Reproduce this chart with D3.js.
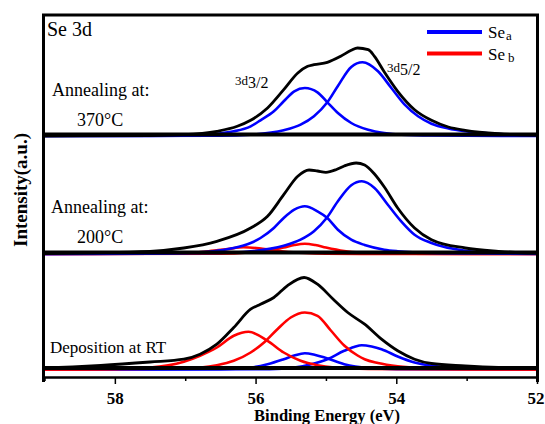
<!DOCTYPE html>
<html>
<head>
<meta charset="utf-8">
<script src="https://cdn.jsdelivr.net/npm/d3@7"></script>
<style>
  body { margin: 0; background: #fff; }
  svg text { font-family: "Liberation Serif", "DejaVu Serif", serif; fill: #000; }
</style>
</head>
<body>
<div id="chart"></div>
<script>
// [binding energy (eV), intensity (a.u.)]

// 370 C annealing
const t370_black = [[59,0],[57.5,0.5],[57.02,1.3],[56.55,4.7],[56.26,9.7],[56.07,15.7],[55.83,28],[55.6,46.3],[55.4,63],[55.26,69.7],[55.17,71.3],[54.98,73.7],[54.79,79.7],[54.64,85.7],[54.55,88],[54.4,86.3],[54.31,79.7],[54.17,64],[53.98,44.7],[53.74,26.3],[53.5,15.7],[53.26,9],[53.02,5.7],[52.55,2.3],[52.07,1],[52,1]];
const t370_sea32 = [[59,0],[57.5,0],[57.02,0.3],[56.55,2.3],[56.31,4.7],[56.07,9.7],[55.93,15.7],[55.74,24.7],[55.6,34.7],[55.45,44.7],[55.3,48],[55.12,43.7],[54.98,33.7],[54.83,23],[54.64,13],[54.4,6.3],[54.17,3],[53.93,1.3],[53.5,0.5],[52,0]];
const t370_sea52 = [[59,0],[56.5,0.3],[56.07,1.3],[55.6,5.7],[55.36,11.3],[55.17,19.7],[54.98,33.7],[54.83,50],[54.64,69],[54.48,73.7],[54.26,64.7],[54.07,48],[53.88,31.3],[53.69,19.7],[53.5,12.3],[53.26,7.5],[53.02,4.7],[52.55,2],[52.07,0.7],[52,0.5]];

// 200 C annealing
const t200_black = [[59,0.5],[57.5,2.7],[57.02,6],[56.55,12.7],[56.07,26],[55.83,37.7],[55.6,59.3],[55.4,77.7],[55.24,84],[55.12,83],[55,81.7],[54.85,84.5],[54.74,88],[54.57,91],[54.45,89],[54.31,80],[54.17,67],[53.98,46],[53.74,26],[53.5,14.3],[53.02,6],[52.55,2.7],[52.07,1],[52,1]];
const t200_sea32 = [[59,0],[57.5,0.3],[57.02,1],[56.55,3.3],[56.31,6],[56.07,11],[55.93,16],[55.74,26],[55.6,36],[55.45,44.3],[55.3,47.7],[55.12,42.7],[54.98,36],[54.83,24.3],[54.64,14.3],[54.45,9],[54.17,4.3],[53.98,2.7],[53.5,1],[52.5,0.3],[52,0]];
const t200_sea52 = [[59,0],[56.55,1],[56.07,2.7],[55.6,8.3],[55.36,14.3],[55.17,22.7],[54.99,36],[54.83,52.7],[54.64,68.7],[54.49,72.7],[54.31,66],[54.12,49.3],[53.93,32.7],[53.74,19.3],[53.5,11],[53.02,3.3],[52.55,1],[52,0.3]];
const t200_seb32 = [[59,0],[57.5,0.2],[57,0.8],[56.7,2.5],[56.4,5],[56.17,6.7],[55.9,5.2],[55.6,2.5],[55.3,1],[55,0.3],[54.5,0],[52,0]];
const t200_seb52 = [[59,0],[56.5,0.3],[56.1,1.5],[55.83,3.5],[55.6,6.5],[55.45,9],[55.3,10.3],[55.15,9],[55,6.5],[54.74,3],[54.5,1.3],[54.2,0.5],[53.8,0.2],[52,0]];

// deposition at RT
const rt_black = [[59,1.5],[58.6,2.5],[58.2,4],[57.5,7.5],[57.02,10.3],[56.79,15.3],[56.55,25.3],[56.31,42],[56.07,60.3],[55.93,65.3],[55.74,72],[55.55,83.7],[55.31,92],[55.12,85.3],[54.9,70.5],[54.69,57],[54.45,45.3],[54.21,30.3],[53.98,18.7],[53.74,10.3],[53.5,6],[53.02,3.7],[52.55,2],[52.07,1],[52,1]];
const rt_sea32 = [[59,0],[56.5,0.3],[56.07,2],[55.83,5.3],[55.6,10.3],[55.45,14],[55.3,16.3],[55.15,14.5],[55.02,12],[54.74,5.3],[54.4,1.5],[54,0.3],[52,0]];
const rt_sea52 = [[59,0],[55.8,0.3],[55.45,2],[55.21,5.3],[54.98,10.3],[54.74,18.7],[54.6,22.5],[54.49,24.3],[54.35,23],[54.21,20.3],[53.98,13],[53.74,7],[53.5,3.7],[53.02,1.3],[52.55,0.3],[52,0]];
const rt_seb32 = [[59,0],[58.2,0.3],[57.5,2],[57.02,7.7],[56.79,13.7],[56.55,22],[56.31,33.7],[56.1,37.7],[55.83,28.7],[55.6,17],[55.36,8.7],[55.12,4.3],[54.88,2],[54.4,0.5],[52,0]];
const rt_seb52 = [[59,0],[57.02,1],[56.55,4.3],[56.31,8.7],[56.07,17],[55.88,27],[55.69,40.3],[55.5,52],[55.3,57],[55.12,53.7],[54.93,39],[54.74,24],[54.55,14],[54.45,10.3],[54.26,6.5],[53.98,3.3],[53.5,1.3],[53,0.5],[52,0]];

const panelLabels = [["Annealing at:", "370\u00b0C"], ["Annealing at:", "200\u00b0C"], ["Deposition at RT"]];
const legendNames = [["Se", "a"], ["Se", "b"]];
const xTicks = [58, 56, 54, 52];
const xMinorTicks = [59, 57, 55, 53];

const colA = "#0000ff", colB = "#ff0000";
const panels = [
  {labels: panelLabels[0], curves: [[t370_sea32, colA], [t370_sea52, colA], [t370_black, "#000"]]},
  {labels: panelLabels[1], curves: [[t200_seb32, colB], [t200_seb52, colB], [t200_sea32, colA], [t200_sea52, colA], [t200_black, "#000"]]},
  {labels: panelLabels[2], curves: [[rt_sea32, colA], [rt_sea52, colA], [rt_seb32, colB], [rt_seb52, colB], [rt_black, "#000"]]}
];

// layout
const width = 545, height = 424;
const frameL = 43.5, frameR = 537.5, frameT = 15, axisY = 377;
const sepY = [134.5, 252.5, 368];
const baseY = [136, 254, 369.5];
const serif = '"Liberation Serif", "DejaVu Serif", serif';

const svg = d3.select("#chart").append("svg")
  .attr("width", width)
  .attr("height", height)
  .attr("font-family", serif);

const x = d3.scaleLinear().domain([59, 52]).range([44.5, 537]);

// curves
panels.forEach((p, i) => {
  const y = d3.scaleLinear().domain([0, 100]).range([baseY[i], baseY[i] - 100]);
  const line = d3.line()
    .x(d => x(d[0]))
    .y(d => y(d[1]))
    .curve(d3.curveMonotoneX);
  const g = svg.append("g");
  g.selectAll("path")
    .data(p.curves)
    .join("path")
    .attr("d", d => line(d[0]))
    .attr("fill", "none")
    .attr("stroke", d => d[1])
    .attr("stroke-width", d => d[1] === "#000" ? 2.8 : 2.6);
});

// frame and separators
svg.append("line").attr("x1", frameL - 1.5).attr("x2", frameR + 1.5).attr("y1", frameT).attr("y2", frameT)
  .attr("stroke", "#000").attr("stroke-width", 3);
svg.append("line").attr("x1", frameL).attr("x2", frameL).attr("y1", frameT).attr("y2", axisY + 5)
  .attr("stroke", "#000").attr("stroke-width", 3);
svg.append("line").attr("x1", frameR).attr("x2", frameR).attr("y1", frameT).attr("y2", axisY + 5)
  .attr("stroke", "#000").attr("stroke-width", 3);
svg.selectAll(".sep")
  .data(sepY)
  .join("line")
  .attr("class", "sep")
  .attr("x1", frameL).attr("x2", frameR)
  .attr("y1", d => d).attr("y2", d => d)
  .attr("stroke", "#000").attr("stroke-width", 3.8);

// x axis
const xAxis = svg.append("g")
  .attr("transform", `translate(0,${axisY})`)
  .call(d3.axisBottom(x).tickValues(xTicks).tickFormat(d3.format("d"))
    .tickSize(7).tickPadding(8).tickSizeOuter(0));
xAxis.select(".domain").attr("stroke-width", 2.5);
xAxis.selectAll(".tick line").attr("stroke-width", 1.5);
xAxis.attr("font-family", serif).attr("font-size", null);
xAxis.selectAll("text")
  .style("font-family", serif)
  .attr("font-size", 17).attr("font-weight", "bold");
// last label sits at the window edge; keep it inside
xAxis.selectAll(".tick").filter(d => d === 52).select("text")
  .attr("text-anchor", "end").attr("x", 7);

const xMinor = svg.append("g")
  .attr("transform", `translate(0,${axisY})`)
  .call(d3.axisBottom(x).tickValues(xMinorTicks).tickSize(4).tickFormat(""));
xMinor.select(".domain").remove();
xMinor.selectAll(".tick line").attr("stroke-width", 1.5);

svg.append("text")
  .attr("x", 327).attr("y", 421)
  .attr("text-anchor", "middle")
  .attr("font-size", 16.5).attr("font-weight", "bold")
  .text("Binding Energy (eV)");

svg.append("text")
  .attr("transform", "translate(27,190) rotate(-90)")
  .attr("text-anchor", "middle")
  .attr("font-size", 19).attr("font-weight", "bold")
  .text("Intensity(a.u.)");

// panel texts
svg.append("text").attr("x", 47).attr("y", 36).attr("font-size", 20).text("Se 3d");

const labelPos = [[[52, 96], [77, 126]], [[51, 213], [77, 243]], [[50, 353]]];
panels.forEach((p, i) => {
  p.labels.forEach((t, j) => {
    svg.append("text")
      .attr("x", labelPos[i][j][0]).attr("y", labelPos[i][j][1])
      .attr("font-size", i === 2 ? 17 : 18)
      .text(t);
  });
});

// peak labels
function peakLabel(px, py, sub) {
  const t = svg.append("text").attr("x", px).attr("y", py);
  t.append("tspan").attr("font-size", 13).text("3d");
  t.append("tspan").attr("font-size", 16).attr("dy", 3).text(sub);
}
peakLabel(235, 85, "3/2");
peakLabel(387, 72, "5/2");

// legend
const legend = svg.append("g");
legendNames.forEach((n, i) => {
  const ly = 32 + i * 21.5;
  legend.append("line")
    .attr("x1", 427).attr("x2", 482)
    .attr("y1", ly).attr("y2", ly)
    .attr("stroke", i === 0 ? colA : colB)
    .attr("stroke-width", 4);
  const t = legend.append("text").attr("x", 488).attr("y", ly + 6).attr("font-size", 17);
  t.append("tspan").text(n[0]);
  t.append("tspan").attr("font-size", 13).attr("dx", i === 0 ? 1 : 3).attr("dy", 2).text(n[1]);
});
</script>
</body>
</html>
